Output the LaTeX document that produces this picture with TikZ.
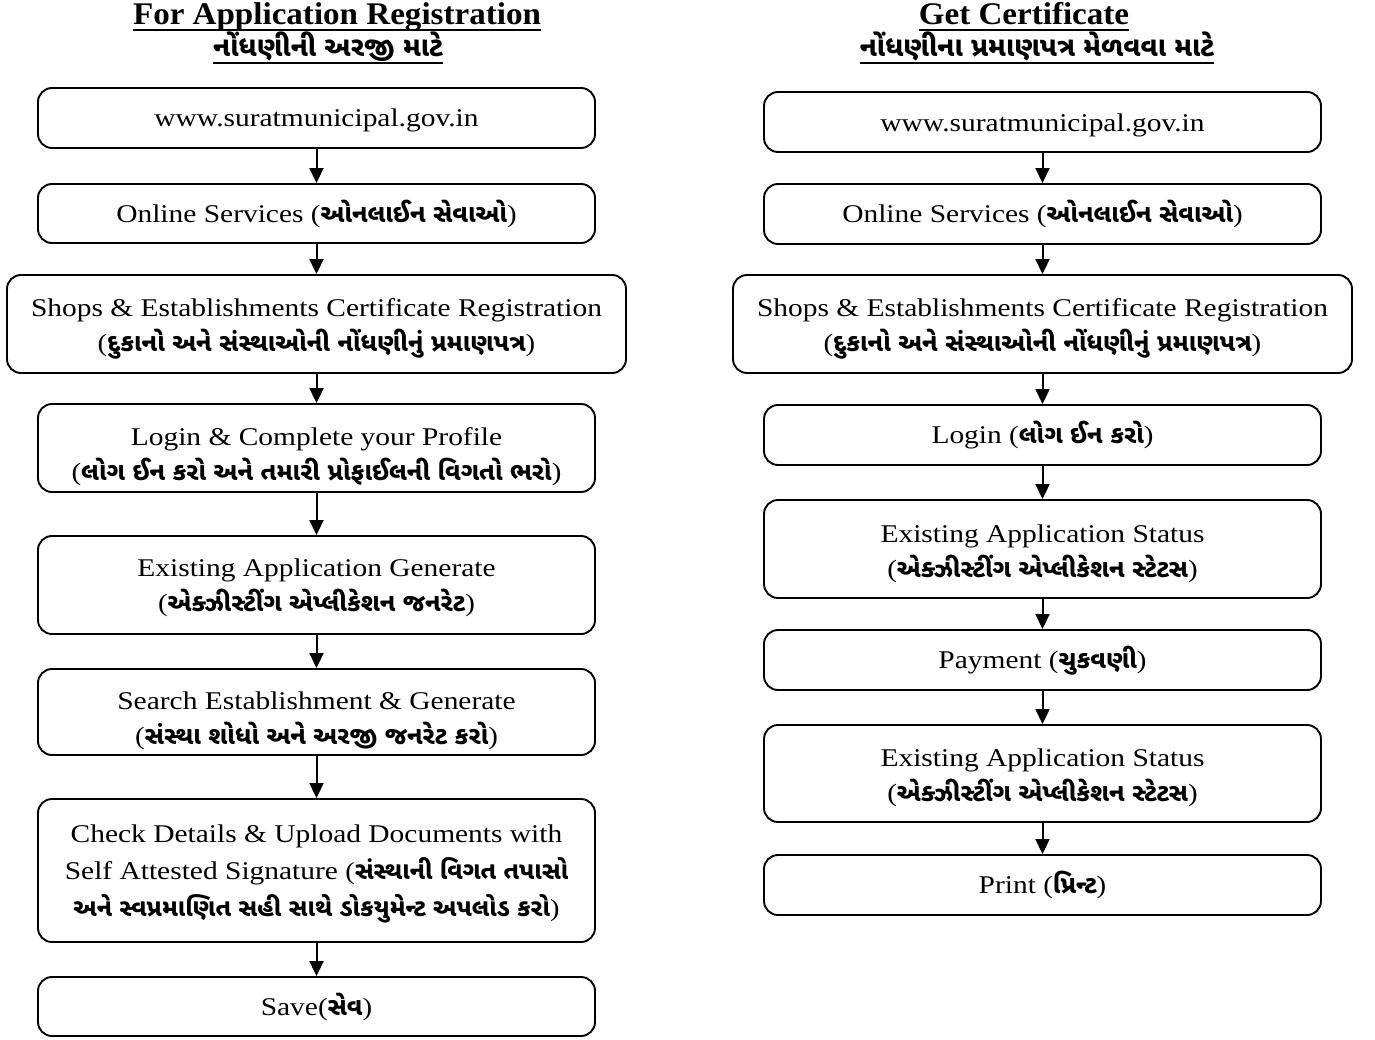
\documentclass[tikz,border=0pt]{standalone}
\usepackage{fontspec}
\setmainfont{Liberation Serif}[FakeStretch=1.155]
\newfontfamily\ttlfont{Liberation Serif}[FakeStretch=1.05]
\newfontfamily\gujfont[Script=Gujarati]{Noto Sans Gujarati UI}
\usetikzlibrary{arrows.meta}
\newcommand{\gj}[1]{{\gujfont\bfseries #1}}
\newcommand{\gsize}{\fontsize{25}{36}\selectfont}
\newcommand{\gline}[1]{{\gsize(\gj{#1})}}
\begin{document}
\begin{tikzpicture}[x=1pt,y=-1pt,
  box/.style={draw, line width=1.9pt, rounded corners=14pt, minimum width=557pt, inner sep=0pt},
  wide/.style={box, minimum width=619pt},
  txt/.style={align=center, inner sep=0pt, font=\fontsize{25.5}{35}\selectfont},
  arr/.style={-{Triangle[width=14pt,length=15pt]}, line width=2pt},
  ttl/.style={inner sep=0pt, anchor=base, font=\fontsize{31.5}{34}\selectfont\ttlfont\bfseries},
  gttl/.style={inner sep=0pt, anchor=base, font=\fontsize{27.5}{34}\selectfont\gujfont\bfseries},
  uline/.style={line width=2pt}]
\useasboundingbox (0,0) rectangle (1375,1040);
% titles
\node[ttl] (t1) at (337,25) {For Application Registration};
\node[gttl] (t2) at (328,57) {નોંધણીની અરજી માટે};
\node[ttl] (t3) at (1024,25) {Get Certificate};
\node[gttl] (t4) at (1037,57) {નોંધણીના પ્રમાણપત્ર મેળવવા માટે};
\draw[uline] ([yshift=-5pt]t1.base west) -- ([yshift=-5pt]t1.base east);
\draw[uline] ([yshift=-6pt]t2.base west) -- ([yshift=-6pt]t2.base east);
\draw[uline] ([yshift=-5pt]t3.base west) -- ([yshift=-5pt]t3.base east);
\draw[uline] ([yshift=-6pt]t4.base west) -- ([yshift=-6pt]t4.base east);
% left column boxes
\node[box, minimum height=60pt] (l1) at (316.5,118) {};
\node[box, minimum height=59pt] (l2) at (316.5,213.5) {};
\node[wide, minimum height=98pt] (l3) at (316.5,324) {};
\node[box, minimum height=88pt] (l4) at (316.5,448) {};
\node[box, minimum height=98pt] (l5) at (316.5,585) {};
\node[box, minimum height=86pt] (l6) at (316.5,712) {};
\node[box, minimum height=143pt] (l7) at (316.5,870.5) {};
\node[box, minimum height=59pt] (l8) at (316.5,1006.5) {};
% left column texts
\node[txt] (l1t) at ([yshift=-2pt]l1.center) {www.suratmunicipal.gov.in};
\node[txt] (l2t) at ([yshift=0pt]l2.center) {Online Services \gline{ઓનલાઈન સેવાઓ}};
\node[txt] (l3t) at ([yshift=-5pt]l3.center) {Shops \& Establishments Certificate Registration\\ \gline{દુકાનો અને સંસ્થાઓની નોંધણીનું પ્રમાણપત્ર}};
\node[txt] (l4t) at ([yshift=-9pt]l4.center) {Login \& Complete your Profile\\ \gline{લોગ ઈન કરો અને તમારી પ્રોફાઈલની વિગતો ભરો}};
\node[txt] (l5t) at ([yshift=-3pt]l5.center) {Existing Application Generate\\ \gline{એક્ઝીસ્ટીંગ એપ્લીકેશન જનરેટ}};
\node[txt] (l6t) at ([yshift=-9pt]l6.center) {Search Establishment \& Generate\\ \gline{સંસ્થા શોધો અને અરજી જનરેટ કરો}};
\node[txt, font=\fontsize{25.5}{37}\selectfont] (l7t) at ([yshift=-3pt]l7.center) {Check Details \& Upload Documents with\\ Self Attested Signature {\fontsize{24.5}{37}\selectfont(\gj{સંસ્થાની વિગત તપાસો}}\\ {\fontsize{24.5}{37}\selectfont\gj{અને સ્વપ્રમાણિત સહી સાથે ડોકયુમેન્ટ અપલોડ કરો})}};
\node[txt] (l8t) at ([yshift=0pt]l8.center) {Save\gline{સેવ}};
% right column boxes
\node[box, minimum height=60pt] (r1) at (1042.5,122) {};
\node[box, minimum height=60pt] (r2) at (1042.5,214) {};
\node[wide, minimum height=98pt] (r3) at (1042.5,324) {};
\node[box, minimum height=60pt] (r4) at (1042.5,435) {};
\node[box, minimum height=98pt] (r5) at (1042.5,549) {};
\node[box, minimum height=60pt] (r6) at (1042.5,660) {};
\node[box, minimum height=97pt] (r7) at (1042.5,773.5) {};
\node[box, minimum height=60pt] (r8) at (1042.5,885) {};
% right column texts
\node[txt] (r1t) at ([yshift=-3pt]r1.center) {www.suratmunicipal.gov.in};
\node[txt] (r2t) at ([yshift=0pt]r2.center) {Online Services \gline{ઓનલાઈન સેવાઓ}};
\node[txt] (r3t) at ([yshift=-5pt]r3.center) {Shops \& Establishments Certificate Registration\\ \gline{દુકાનો અને સંસ્થાઓની નોંધણીનું પ્રમાણપત્ર}};
\node[txt] (r4t) at ([yshift=0pt]r4.center) {Login \gline{લોગ ઈન કરો}};
\node[txt] (r5t) at ([yshift=-5pt]r5.center) {Existing Application Status\\ \gline{એક્ઝીસ્ટીંગ એપ્લીકેશન સ્ટેટસ}};
\node[txt] (r6t) at ([yshift=-1pt]r6.center) {Payment \gline{ચુકવણી}};
\node[txt] (r7t) at ([yshift=-4pt]r7.center) {Existing Application Status\\ \gline{એક્ઝીસ્ટીંગ એપ્લીકેશન સ્ટેટસ}};
\node[txt] (r8t) at ([yshift=0pt]r8.center) {Print \gline{પ્રિન્ટ}};
% arrows
\foreach \a/\b in {l1/l2,l2/l3,l3/l4,l4/l5,l5/l6,l6/l7,l7/l8,r1/r2,r2/r3,r3/r4,r4/r5,r5/r6,r6/r7,r7/r8}
  \draw[arr] (\a) -- (\b);
\end{tikzpicture}
\end{document}
